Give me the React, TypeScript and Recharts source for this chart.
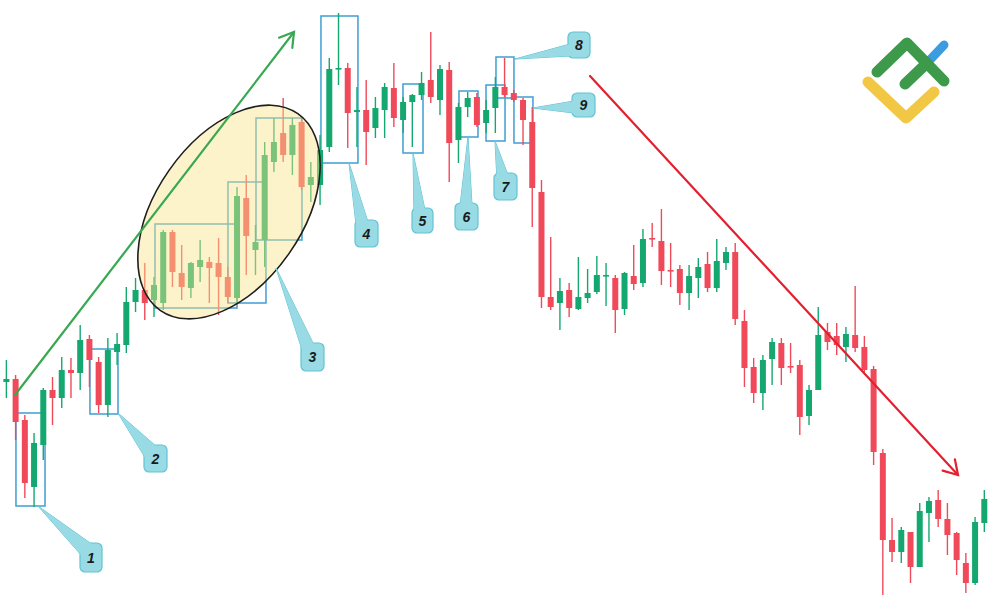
import React from "react";
import { Bar, ComposedChart, ReferenceArea, XAxis, YAxis } from "recharts";

// candle values (price units, bottom of picture = 0)
const OPEN = [218, 221, 180, 113, 155, 210, 202, 230, 227, 261, 238, 195, 248, 255, 298, 310, 300, 297, 368, 327, 312, 333, 338, 337, 323, 302, 402, 350, 360, 438, 467, 445, 478, 415, 415, 453, 531, 532, 488, 490, 472, 490, 512, 480, 498, 505, 520, 500, 530, 460, 493, 503, 477, 492, 513, 507, 500, 478, 408, 303, 297, 310, 291, 302, 308, 324, 322, 291, 324, 317, 362, 359, 330, 331, 307, 322, 336, 312, 337, 348, 279, 233, 207, 241, 257, 234, 235, 184, 210, 268, 264, 253, 265, 253, 231, 147, 60, 48, 68, 33, 87, 100, 81, 67, 37, 17, 77];
const CLOSE = [221, 178, 117, 157, 210, 202, 230, 227, 260, 240, 195, 250, 256, 298, 310, 297, 315, 368, 328, 313, 337, 340, 332, 323, 303, 404, 364, 358, 445, 458, 445, 475, 413, 423, 450, 531, 532, 487, 490, 468, 492, 513, 482, 498, 505, 517, 503, 531, 457, 493, 502, 475, 490, 513, 505, 500, 480, 412, 303, 293, 309, 292, 303, 307, 325, 325, 290, 327, 316, 361, 361, 329, 329, 307, 324, 333, 312, 339, 348, 281, 232, 207, 240, 258, 232, 233, 183, 210, 265, 258, 255, 266, 252, 230, 148, 60, 48, 70, 33, 89, 99, 81, 65, 40, 17, 78, 101];
const HIGH = [240, 225, 185, 167, 212, 223, 243, 242, 275, 265, 243, 262, 267, 313, 322, 337, 323, 370, 370, 355, 338, 360, 343, 362, 333, 413, 425, 375, 458, 482, 502, 482, 482, 438, 465, 542, 587, 537, 513, 520, 503, 517, 537, 503, 506, 528, 568, 535, 538, 497, 508, 507, 500, 523, 542, 510, 502, 493, 420, 363, 322, 317, 343, 331, 344, 337, 325, 328, 355, 371, 377, 391, 357, 335, 335, 342, 348, 361, 353, 357, 290, 242, 245, 262, 262, 257, 240, 215, 293, 277, 277, 273, 314, 264, 234, 151, 82, 73, 68, 97, 103, 110, 97, 68, 47, 83, 110];
const LOW = [202, 160, 102, 93, 140, 175, 192, 202, 210, 213, 187, 183, 235, 247, 288, 280, 283, 290, 313, 300, 302, 318, 297, 285, 297, 297, 325, 325, 333, 428, 438, 425, 410, 398, 395, 448, 515, 452, 453, 435, 462, 462, 473, 467, 453, 500, 497, 485, 418, 437, 483, 473, 467, 467, 503, 498, 455, 373, 292, 290, 270, 283, 290, 297, 306, 294, 267, 285, 310, 313, 353, 315, 313, 295, 290, 302, 308, 308, 330, 275, 213, 197, 190, 215, 215, 227, 165, 175, 210, 250, 245, 238, 248, 228, 135, 5, 38, 37, 17, 33, 58, 73, 45, 25, 7, 15, 68];

// highlighted candle groups: [from index, to index, top price, bottom price]
const BOXES: [number, number, number, number][] = [
  [1.08, 4.23, 187, 94],
  [9.1, 12.14, 251, 186],
  [16.15, 25.04, 376, 292],
  [24.06, 28.18, 418, 297],
  [27.1, 32.08, 482, 360],
  [34.14, 38.15, 584, 437],
  [43.03, 45.2, 516, 447],
  [49.1, 51.16, 509, 463],
  [52.03, 54.09, 515, 459],
  [53.11, 55.06, 543, 502],
  [55.06, 57.12, 503, 457],
];

const LABELS = ["1", "2", "3", "4", "5", "6", "7", "8", "9"];

const data = OPEN.map((o, i) => ({ i, open: o, close: CLOSE[i], high: HIGH[i], low: LOW[i] }));

const GREEN = "#14a870";
const RED = "#f04a5a";
const BOX = "#3f9fd2";

const Candle = (props: any) => {
  const { x, y, width, height, payload } = props;
  if (!payload) return null;
  const { open, close, high, low } = payload;
  const color = close >= open ? GREEN : RED;
  const h = Math.abs(height);
  const top = height < 0 ? y + height : y;
  const k = high === low ? 0 : h / (high - low);
  const yOf = (v: number) => top + (high - v) * k;
  const bTop = yOf(Math.max(open, close));
  const bBot = yOf(Math.min(open, close));
  const cx = x + width / 2;
  return (
    <g>
      <line x1={cx} x2={cx} y1={top} y2={top + h} stroke={color} strokeWidth={1.4} />
      <rect x={x} y={bTop} width={width} height={Math.max(bBot - bTop, 1.6)} fill={color} />
    </g>
  );
};

// callouts: label rect [x, y, w, h], pointer tip, two base points
const CALLOUTS = [
  { r: [80, 543, 22, 29], p: [[38, 506], [82, 556], [93, 545]] },
  { r: [144, 445, 23, 27], p: [[118, 413], [146, 459], [157, 447]] },
  { r: [301, 343, 23, 28], p: [[276, 268], [303, 353], [314, 345]] },
  { r: [355, 220, 23, 27], p: [[349, 163], [357, 233], [368, 222]] },
  { r: [412, 208, 21, 25], p: [[413, 153], [414, 216], [425, 210]] },
  { r: [455, 203, 23, 27], p: [[468, 137], [460, 206], [472, 205]] },
  { r: [494, 173, 23, 27], p: [[495, 141], [497, 181], [508, 175]] },
  { r: [568, 32, 22, 26], p: [[515, 59], [570, 44], [570, 56]] },
  { r: [572, 93, 23, 24], p: [[533, 108], [574, 101], [574, 113]] },
];

function Arrow({ from, to, color }: { from: number[]; to: number[]; color: string }) {
  const dx = from[0] - to[0];
  const dy = from[1] - to[1];
  const len = Math.hypot(dx, dy);
  const ux = dx / len;
  const uy = dy / len;
  const wing = (a: number) => {
    const c = Math.cos(a);
    const s = Math.sin(a);
    return [to[0] + 16 * (ux * c - uy * s), to[1] + 16 * (ux * s + uy * c)];
  };
  const w1 = wing(0.55);
  const w2 = wing(-0.55);
  return (
    <g stroke={color} strokeWidth={2.2} fill="none" strokeLinecap="round">
      <line x1={from[0]} y1={from[1]} x2={to[0]} y2={to[1]} />
      <polyline points={`${w1[0]},${w1[1]} ${to[0]},${to[1]} ${w2[0]},${w2[1]}`} />
    </g>
  );
}

export default function App() {
  return (
    <div style={{ position: "fixed", left: 0, top: 0, width: 989, height: 601, background: "#fff" }}>
      <ComposedChart width={989} height={601} data={data} margin={{ top: 0, right: 0, bottom: 0, left: 0 }}>
        <XAxis dataKey="i" type="number" domain={[-0.65, 106.55]} allowDataOverflow hide />
        <YAxis type="number" domain={[-1, 600]} allowDataOverflow hide />
        <Bar dataKey={(d: any) => [d.low, d.high]} barSize={6} shape={Candle} isAnimationActive={false} />
        {BOXES.map((b, k) => (
          <ReferenceArea
            key={k}
            x1={b[0]}
            x2={b[1]}
            y1={b[3]}
            y2={b[2]}
            fill="none"
            stroke={BOX}
            strokeWidth={1.5}
            fillOpacity={0}
            ifOverflow="visible"
          />
        ))}
      </ComposedChart>
      <svg
        width={989}
        height={601}
        style={{ position: "absolute", left: 0, top: 0, pointerEvents: "none" }}
      >
        <ellipse
          cx={229}
          cy={212}
          rx={120}
          ry={73}
          transform="rotate(-55 229 212)"
          fill="rgba(249,229,138,0.45)"
          stroke="#1e1e1e"
          strokeWidth={1.6}
        />
        <Arrow from={[15, 395]} to={[294, 32]} color="#38a852" />
        <Arrow from={[590, 76]} to={[958, 475]} color="#e3202f" />
        {CALLOUTS.map((c, k) => {
          const pts = c.p.map((q) => q.join(",")).join(" ");
          return (
            <g key={k}>
              <polygon points={pts} fill="#98dbe4" stroke="#62c3d3" strokeWidth={1} />
              <rect x={c.r[0]} y={c.r[1]} width={c.r[2]} height={c.r[3]} rx={5} fill="#98dbe4" stroke="#62c3d3" strokeWidth={1.2} />
              <polygon points={pts} fill="#98dbe4" />
              <text
                x={c.r[0] + c.r[2] / 2}
                y={c.r[1] + c.r[3] / 2 + 5}
                textAnchor="middle"
                fontFamily="Liberation Sans, Arial, sans-serif"
                fontWeight="bold"
                fontStyle="italic"
                fontSize={14}
                fill="#1a1a1a"
              >
                {LABELS[k]}
              </text>
            </g>
          );
        })}
        <g fill="none" strokeLinecap="round" strokeLinejoin="round">
          <polyline points="868,82 906,118 934,92" stroke="#f2c744" strokeWidth={11} />
          <line x1={928} y1={62} x2={944} y2={45} stroke="#3d9be0" strokeWidth={9} />
          <polyline points="877,72 907,43 944,81" stroke="#3c9a4a" strokeWidth={11} />
          <line x1={905} y1={84} x2={927} y2={63} stroke="#3c9a4a" strokeWidth={11} />
        </g>
      </svg>
    </div>
  );
}
